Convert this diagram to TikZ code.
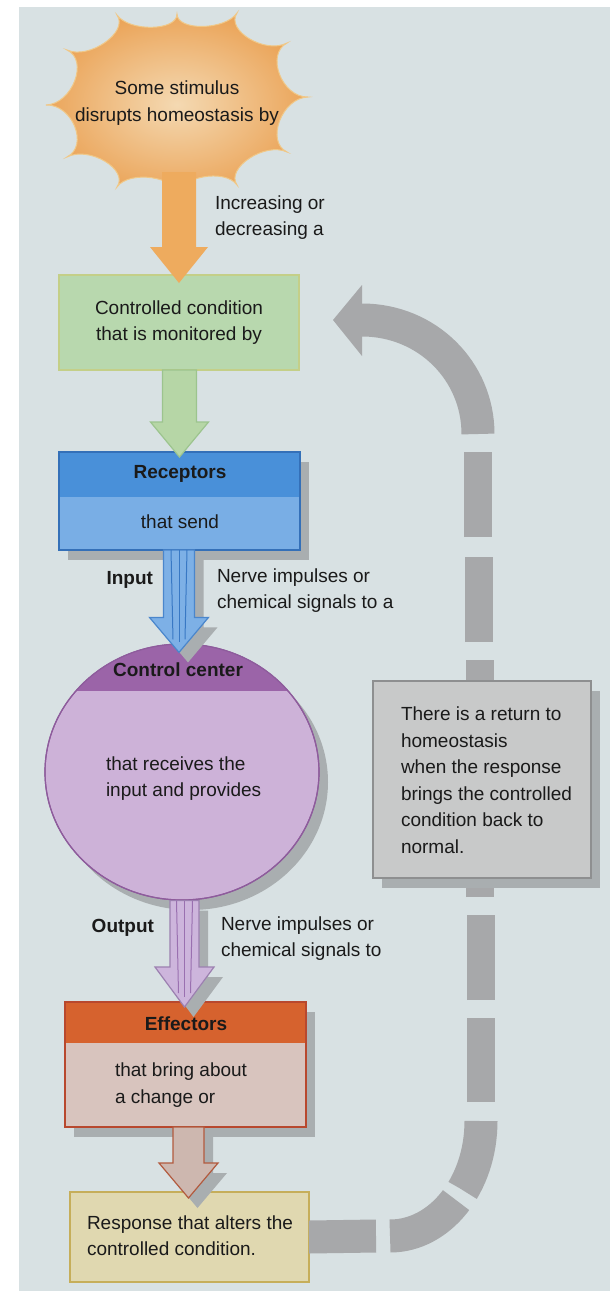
\documentclass[tikz,border=0pt]{standalone}
\usepackage{fontspec}
\setmainfont{Liberation Sans}
\usetikzlibrary{calc,shapes.geometric,shadows}
\definecolor{bgc}{HTML}{D8E1E3}
\definecolor{ink}{HTML}{1A1A1A}
\definecolor{shadowc}{HTML}{A9AEB0}
\definecolor{burstIn}{HTML}{F4D9B2}
\definecolor{burstOut}{HTML}{EBA55A}
\definecolor{burstE}{HTML}{F0C888}
\definecolor{orangeA}{HTML}{EEAB5E}
\definecolor{greenF}{HTML}{B8D8AE}
\definecolor{greenE}{HTML}{C4CF88}
\definecolor{greenA}{HTML}{B6D6A6}
\definecolor{greenAE}{HTML}{9CC48E}
\definecolor{recT}{HTML}{4990D9}
\definecolor{recB}{HTML}{79AEE5}
\definecolor{recE}{HTML}{3470B8}
\definecolor{blueA}{HTML}{7DB0E6}
\definecolor{blueAE}{HTML}{4A86CC}
\definecolor{blueL}{HTML}{3878C4}
\definecolor{purD}{HTML}{9B64A8}
\definecolor{purL}{HTML}{CDB2D8}
\definecolor{purE}{HTML}{8E5C9C}
\definecolor{purA}{HTML}{CDB5DC}
\definecolor{purAE}{HTML}{9C80B0}
\definecolor{purLn}{HTML}{9A70B0}
\definecolor{effT}{HTML}{D6622E}
\definecolor{effB}{HTML}{D8C4BE}
\definecolor{effE}{HTML}{B8482E}
\definecolor{brA}{HTML}{CDB7AF}
\definecolor{brAE}{HTML}{B25A3E}
\definecolor{respF}{HTML}{E0D8B0}
\definecolor{respE}{HTML}{C6AE5A}
\definecolor{loopc}{HTML}{A7A8AA}
\definecolor{grayF}{HTML}{C8C9C9}
\definecolor{grayE}{HTML}{8E8F90}
\newcommand{\blockarrow}[6]{%
  \path[#1] ($(#3|-#2)+(-#4,0)$) -- ($(#3)+(-#4,-#6)$) -- ($(#3)+(-#5,-#6)$) -- (#3)
     -- ($(#3)+(#5,-#6)$) -- ($(#3)+(#4,-#6)$) -- ($(#3|-#2)+(#4,0)$) -- cycle;}
\begin{document}
\begin{tikzpicture}[x=1pt,y=-1pt,
  txt/.style={font=\fontsize{19}{26.5}\selectfont, text=ink, inner sep=0pt, outer sep=0pt},
  btxt/.style={font=\fontsize{19}{26.5}\selectfont\bfseries, text=ink, inner sep=0pt, outer sep=0pt},
  shd/.style={drop shadow={shadow xshift=9pt, shadow yshift=-10pt, fill=shadowc, opacity=1}},
  boxbase/.style={rectangle, inner sep=0pt, outer sep=0pt, line width=1.2pt},
  loopline/.style={draw=loopc, line width=28pt},
  loopwide/.style={draw=loopc, line width=33pt},
  arrline/.style={line width=1.2pt},
]
\useasboundingbox (0,0) rectangle (610,1291);
\fill[white] (0,0) rectangle (610,1291);
\fill[bgc] (19,7) rectangle (610,1291);

% ---- starburst
\coordinate (bc) at (178,100);
\coordinate (t1) at (177,14);
\coordinate (t2) at (237,13);
\coordinate (t3) at (287,43);
\coordinate (t4) at (308,97);
\coordinate (t5) at (287,152);
\coordinate (t6) at (237,185);
\coordinate (t7) at (178,196);
\coordinate (t8) at (117,187);
\coordinate (t9) at (67,157);
\coordinate (t10) at (46,105);
\coordinate (t11) at (67,50);
\coordinate (t12) at (117,15);
\shadedraw[draw=burstE, line width=1pt, inner color=burstIn, outer color=burstOut]
  (t1) .. controls ($(t1)!.2!(bc)$) and ($(t2)!.2!(bc)$) .. (t2)
       .. controls ($(t2)!.2!(bc)$) and ($(t3)!.2!(bc)$) .. (t3)
       .. controls ($(t3)!.2!(bc)$) and ($(t4)!.2!(bc)$) .. (t4)
       .. controls ($(t4)!.2!(bc)$) and ($(t5)!.2!(bc)$) .. (t5)
       .. controls ($(t5)!.2!(bc)$) and ($(t6)!.2!(bc)$) .. (t6)
       .. controls ($(t6)!.2!(bc)$) and ($(t7)!.2!(bc)$) .. (t7)
       .. controls ($(t7)!.2!(bc)$) and ($(t8)!.2!(bc)$) .. (t8)
       .. controls ($(t8)!.2!(bc)$) and ($(t9)!.2!(bc)$) .. (t9)
       .. controls ($(t9)!.2!(bc)$) and ($(t10)!.2!(bc)$) .. (t10)
       .. controls ($(t10)!.2!(bc)$) and ($(t11)!.2!(bc)$) .. (t11)
       .. controls ($(t11)!.2!(bc)$) and ($(t12)!.2!(bc)$) .. (t12)
       .. controls ($(t12)!.2!(bc)$) and ($(t1)!.2!(bc)$) .. (t1) -- cycle;
\node[txt, align=center] (stim) at (177,103) {Some stimulus\\disrupts homeostasis by};
\coordinate (bstart) at ($(bc)+(0,72)$);

% ---- controlled condition
\node[boxbase, minimum width=240pt, minimum height=95pt, fill=greenF, draw=greenE, txt, align=center]
  (cc) at (179,322.5) {Controlled condition\\that is monitored by};
\coordinate (otip) at ($(cc.north)+(0,8)$);
\blockarrow{fill=orangeA}{bstart}{otip}{17}{29}{36}

% ---- receptors
\node[boxbase, minimum width=241pt, minimum height=98pt, fill=recB, draw=recE, shd] (recep) at (179.5,501) {};
\fill[recT] (recep.north west) rectangle ($(recep.north east)+(0,45)$);
\draw[recE, line width=1.2pt] (recep.north west) rectangle (recep.south east);
\node[btxt] (recT) at (180,474) {Receptors};
\node[txt] (recS) at (180,522) {that send};
\coordinate (gtip) at ($(recep.north)+(0,5)$);
\blockarrow{fill=greenA, draw=greenAE, arrline}{cc.south}{gtip}{17}{29}{35}

% ---- control center
\node[ellipse, minimum width=274pt, minimum height=256pt, inner sep=0pt, fill=purL, draw=purE, line width=1.2pt, shd]
  (ctrl) at (182,772) {};
\begin{scope}
  \clip (ctrl.center) ellipse [x radius=137, y radius=128];
  \fill[purD] ($(ctrl.north)+(-140,-5)$) rectangle ($(ctrl.north)+(140,48)$);
\end{scope}
\draw[purE, line width=1.2pt] (ctrl.center) ellipse [x radius=137, y radius=128];
\node[btxt] (ctrlT) at (178,670) {Control center};
\node[txt, align=left, anchor=west] (ctrlS) at (106,778.5) {that receives the\\input and provides};
\coordinate (btip) at ($(ctrl.north)+(-3,9)$);
\blockarrow{fill=blueA, draw=blueAE, arrline, shd}{recep.south}{btip}{15.5}{29.5}{35}
\draw[blueL, line width=1pt] ($(btip|-recep.south)+(-8,0)$) -- ($(btip)+(-6,-13)$);
\draw[blueL, line width=1pt] ($(btip|-recep.south)+(0,0)$) -- ($(btip)+(0,-10)$);
\draw[blueL, line width=1pt] ($(btip|-recep.south)+(8,0)$) -- ($(btip)+(6,-13)$);
\node[btxt, anchor=east] (inT) at (153,580) {Input};
\node[txt, align=left, anchor=west] (nerve1) at (217,590.5) {Nerve impulses or\\chemical signals to a};

% ---- effectors
\node[boxbase, minimum width=241pt, minimum height=125pt, fill=effB, draw=effE, shd] (eff) at (185.5,1064.5) {};
\fill[effT] (eff.north west) rectangle ($(eff.north east)+(0,41)$);
\draw[effE, line width=1.2pt] (eff.north west) rectangle (eff.south east);
\node[btxt] (effT) at (186,1024) {Effectors};
\node[txt, align=left, anchor=west] (effS) at (115,1085) {that bring about\\a change or};
\coordinate (ptip) at ($(eff.north)+(-1,5)$);
\blockarrow{fill=purA, draw=purAE, arrline, shd}{ctrl.south}{ptip}{14.5}{29.5}{40}
\draw[purLn, line width=1pt] ($(ptip|-ctrl.south)+(-8,0)$) -- ($(ptip)+(-6,-14)$);
\draw[purLn, line width=1pt] ($(ptip|-ctrl.south)+(0,0)$) -- ($(ptip)+(0,-10)$);
\draw[purLn, line width=1pt] ($(ptip|-ctrl.south)+(8,0)$) -- ($(ptip)+(6,-14)$);
\node[btxt, anchor=east] (outT) at (154,928) {Output};
\node[txt, align=left, anchor=west] (nerve2) at (221,938.5) {Nerve impulses or\\chemical signals to};

% ---- response
\node[boxbase, minimum width=239pt, minimum height=90pt, fill=respF, draw=respE] (resp) at (189.5,1237) {};
\node[txt, align=left, anchor=west] (respT) at (87,1235.5) {Response that alters the\\controlled condition.};
\coordinate (rtip) at ($(resp.north)+(-1,6)$);
\blockarrow{fill=brA, draw=brAE, arrline, shd}{eff.south}{rtip}{15.5}{29.5}{35}

% ---- feedback loop
\coordinate (loopTip) at (333,320);
\coordinate (lb) at (390,1236);
\coordinate (lv) at (481,1121);
\draw[loopwide] (resp.east) -- (376,1236);
\draw[loopwide, dash pattern=on 78pt off 12pt on 300pt] (lb) .. controls (440,1236) and (481,1185) .. (lv);
\draw[loopline] (481,1102) -- (481,1018);
\draw[loopline] (481,1000) -- (481,915);
\draw[loopline] (480,897) -- (480,660);
\draw[loopline] (479,642) -- (479,557);
\draw[loopline] (478,537) -- (478,452);
\draw[loopwide] (478,434) .. controls (478,371) and (427,320) .. (362,320);
\fill[loopc] (362,285) -- (loopTip) -- (362,356) -- cycle;

% ---- gray note box
\node[boxbase, minimum width=218pt, minimum height=197pt, fill=grayF, draw=grayE, shd] (note) at (482,779.5) {};
\node[txt, align=left, anchor=west] (noteT) at (401,780) {There is a return to\\homeostasis\\when the response\\brings the controlled\\condition back to\\normal.};

% ---- side label
\node[txt, align=left, anchor=west] (incT) at (215,217.5) {Increasing or\\decreasing a};
\end{tikzpicture}
\end{document}
